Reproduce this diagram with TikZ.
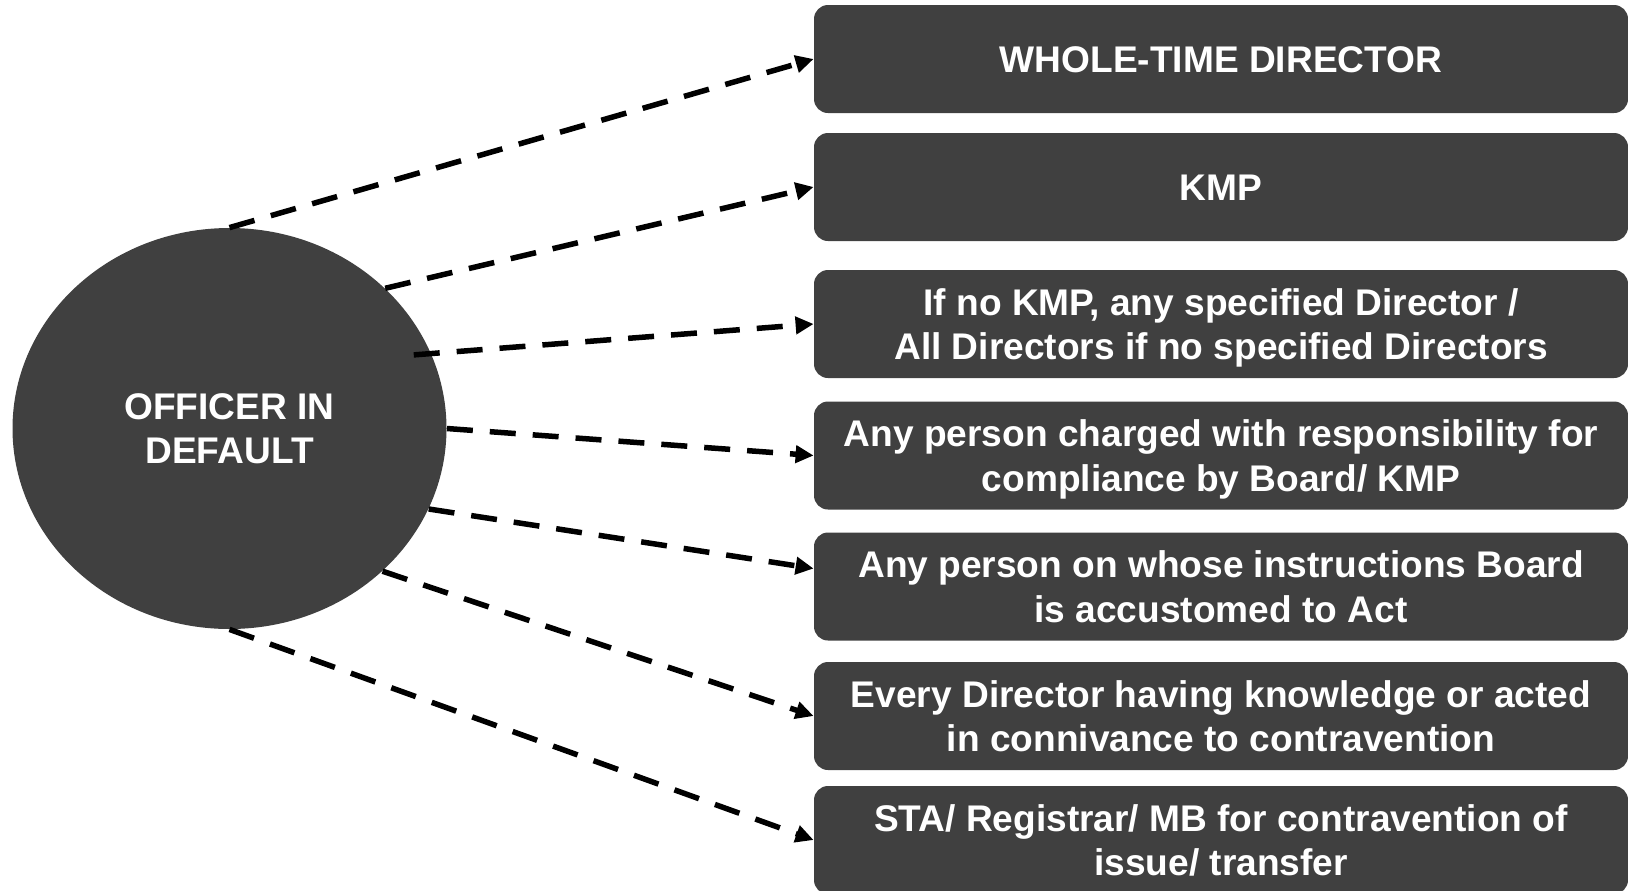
\documentclass[tikz,border=0pt]{standalone}
\usepackage{fontspec}
\setmainfont{Liberation Sans}
\usetikzlibrary{arrows.meta}
\usetikzlibrary{shapes.geometric}
\definecolor{boxgrey}{RGB}{64,64,64}
% struts so that the caps of the lines sit in the middle of each box
\newcommand{\topstrut}{\rule{0pt}{18.3pt}}
\newcommand{\botstrut}{\rule[-5pt]{0pt}{0pt}}

\begin{document}
\begin{tikzpicture}[x=0.5pt,y=-0.5pt]
		\useasboundingbox (0,0) rectangle (1628,890);

		\begin{scope}[every node/.style={fill=boxgrey,text=white,font=\fontsize{18.55}{22.2}\selectfont\bfseries,align=center,inner sep=0pt}]
			\node[ellipse,minimum width=217pt,minimum height=200.5pt] (o) at (229.5,428.5) {OFFICER IN\\DEFAULT};
		\end{scope}

		\begin{scope}[every node/.style={rectangle,rounded corners=7pt,fill=boxgrey,text=white,font=\fontsize{18.55}{22.2}\selectfont\bfseries,align=center,minimum width=407pt,minimum height=54pt,inner sep=0pt}]
			\node (w) at (1221,59) {\topstrut WHOLE-TIME DIRECTOR\botstrut};
			\node (k) at (1221,187) {\topstrut KMP\botstrut};
			\node (n) at (1221,324) {\topstrut If no KMP, any specified Director /\\All Directors if no specified Directors\botstrut};
			\node (c) at (1221,455.5) {\topstrut Any person charged with responsibility for\\compliance by Board/ KMP\botstrut};
			\node (i) at (1221,586.5) {\topstrut Any person on whose instructions Board\\is accustomed to Act\botstrut};
			\node (e) at (1221,716) {\topstrut Every Director having knowledge or acted\\in connivance to contravention\botstrut};
			\node (s) at (1221,840) {\topstrut STA/ Registrar/ MB for contravention of\\issue/ transfer\botstrut};
		\end{scope}

		\begin{scope}[>={Triangle[length=9pt,width=8.5pt]},line width=2.75pt,dash pattern=on 13pt off 8.5pt]
			\draw[->] (o.north) -- (w.west);
			\draw[->] (o.42) -- (k.west);
			\draw[->] ([xshift=-9pt]o.20) -- (n.west);
			\draw[->] (o.east) -- (c.west);
			\draw[->] (o.-22) -- ([yshift=9pt]i.west);
			\draw[->] (o.-43) -- (e.west);
			\draw[->] (o.south) -- (s.west);
		\end{scope}
	\end{tikzpicture}
\end{document}
